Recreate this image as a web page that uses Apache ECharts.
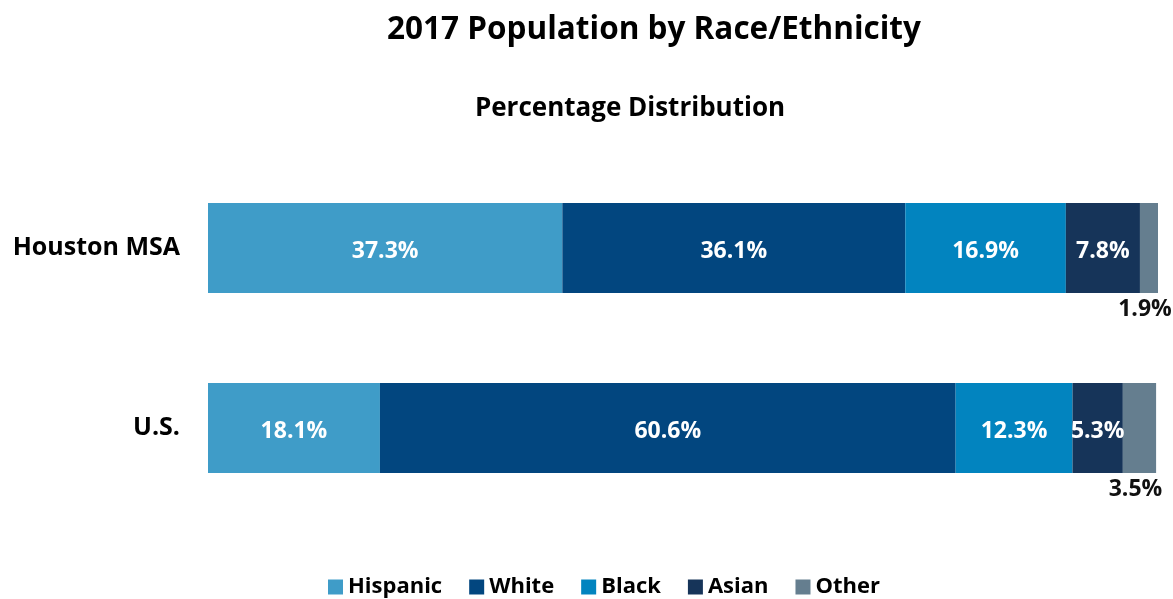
<!DOCTYPE html>
<html>
<head>
<meta charset="utf-8">
<style>
  html, body { margin: 0; padding: 0; background: #fff; }
  #chart { width: 1173px; height: 599px; }
</style>
<script src="https://cdn.jsdelivr.net/npm/echarts@6/dist/echarts.min.js"></script>
</head>
<body>
<div id="chart"></div>
<script>
const regions = ['Houston MSA', 'U.S.'];
const groups = ['Hispanic', 'White', 'Black', 'Asian', 'Other'];
const hispanic = [37.3, 18.1];
const white = [36.1, 60.6];
const black = [16.9, 12.3];
const asian = [7.8, 5.3];
const other = [1.9, 3.5];

const colors = ['#3f9cc8', '#02467f', '#0284bf', '#163459', '#657e8f'];
const font = '"Open Sans", Lato, sans-serif';

const seriesValues = [hispanic, white, black, asian, other];

const series = groups.map((name, i) => {
  const isOther = name === 'Other';
  return {
    name: name,
    type: 'bar',
    stack: 'total',
    barWidth: '50%',
    data: seriesValues[i],
    itemStyle: { color: colors[i] },
    label: {
      show: true,
      position: isOther ? 'bottom' : 'inside',
      offset: isOther ? [-4, 0] : [0, 3],
      distance: 5,
      formatter: (p) => p.value.toFixed(1) + '%',
      color: isOther ? '#111' : '#fff',
      fontFamily: font,
      fontWeight: 'bold',
      fontSize: 23,
    },
  };
});

const chart = echarts.init(document.getElementById('chart'));
chart.setOption({
  animation: false,
  color: colors,
  title: [
    {
      text: '2017 Population by Race/Ethnicity',
      left: 649,
      textAlign: 'center',
      top: 9,
      textStyle: { fontFamily: font, fontWeight: 'bold', fontSize: 31.5, color: '#000' },
    },
    {
      text: 'Percentage Distribution',
      left: 625,
      textAlign: 'center',
      top: 91,
      textStyle: { fontFamily: font, fontWeight: 'bold', fontSize: 26, color: '#000' },
    },
  ],
  legend: {
    top: 571,
    left: 323,
    itemWidth: 15,
    itemHeight: 15,
    itemGap: 27,
    icon: 'rect',
    textStyle: { fontFamily: font, fontWeight: 'bold', fontSize: 22, color: '#000' },
    data: groups,
  },
  grid: {
    left: 208,
    right: 15,
    top: 158,
    bottom: 81,
  },
  xAxis: {
    type: 'value',
    min: 0,
    max: 100,
    show: false,
  },
  yAxis: {
    type: 'category',
    data: regions,
    inverse: true,
    axisLine: { show: false },
    axisTick: { show: false },
    axisLabel: {
      margin: 28,
      color: '#000',
      fontFamily: font,
      fontWeight: 'bold',
      fontSize: 25,
    },
  },
  series: series,
});
</script>
</body>
</html>
